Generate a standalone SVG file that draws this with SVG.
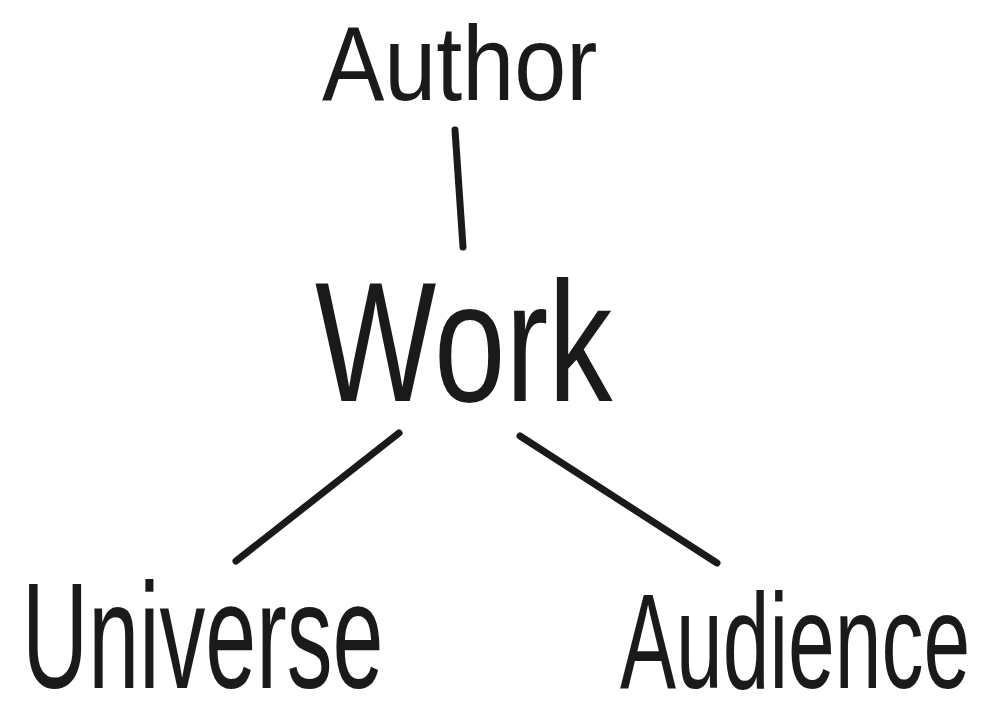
<svg xmlns="http://www.w3.org/2000/svg" width="1002" height="720" viewBox="0 0 1002 720">
<style>
.t{font-family:"Liberation Sans",Arial,sans-serif;fill:#1a1a1a;font-weight:normal}
.c{stroke:#1a1a1a;stroke-width:7;stroke-linecap:round;fill:none}
</style>
<rect width="1002" height="720" fill="#ffffff"/>
<g id="connectors">
<path class="c" d="M455,130 L463,247"/>
<path class="c" d="M399,433 L236,561"/>
<path class="c" d="M520,436 L717,563"/>
</g>
<g id="author"><text class="t" transform="translate(322,100) scale(0.89,1)" font-size="105">Author</text></g>
<g id="work"><text class="t" transform="translate(315,401) scale(0.756,1)" font-size="170">Work</text></g>
<g id="universe"><text class="t" transform="translate(22,688) scale(0.611,1)" font-size="150">Universe</text></g>
<g id="audience"><text class="t" transform="translate(620,688) scale(0.622,1)" font-size="135">Audience</text></g>
</svg>
